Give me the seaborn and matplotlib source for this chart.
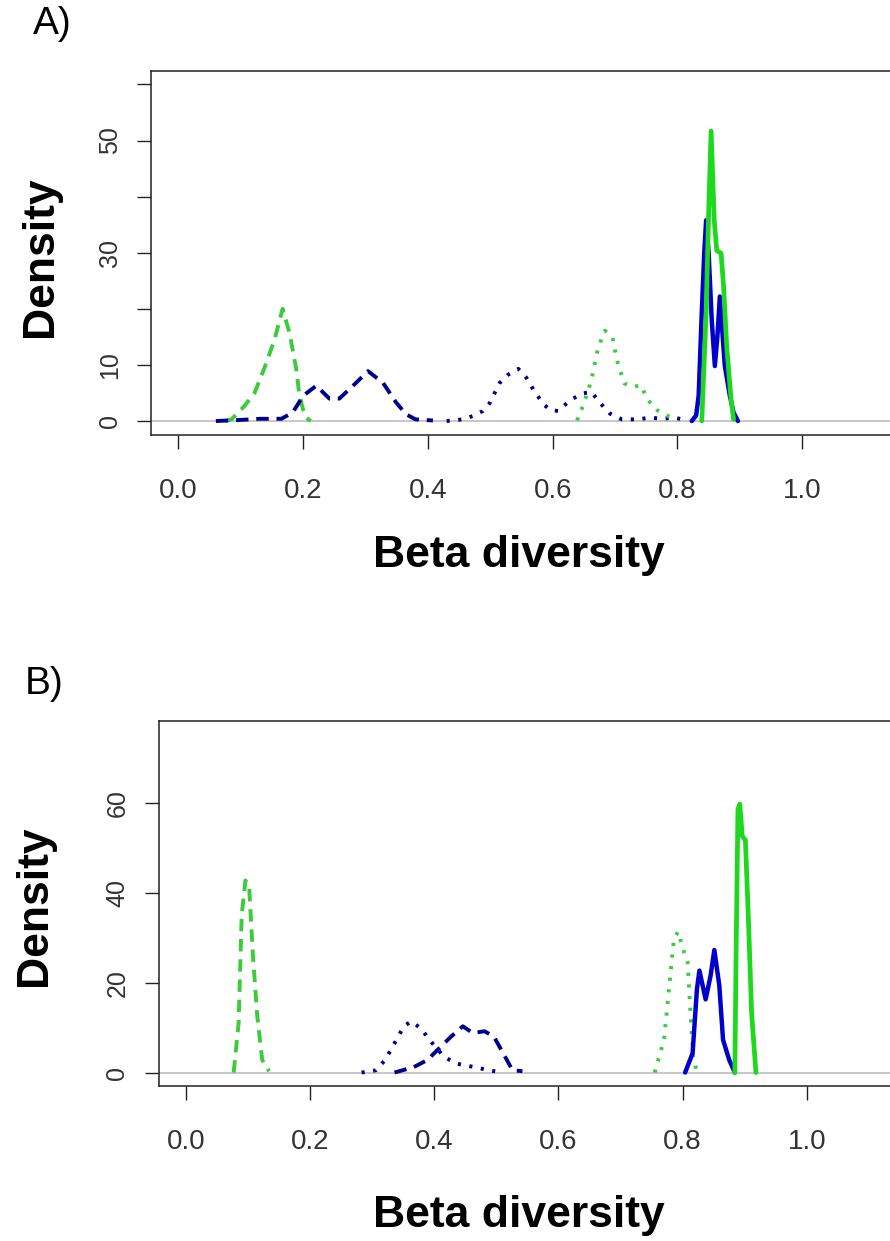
import matplotlib
matplotlib.use("Agg")
import matplotlib.pyplot as plt
from matplotlib import font_manager
import seaborn as sns

# panel A values (beta diversity vs density)
a_green_dash_x = [0.075, 0.085, 0.106, 0.122, 0.138, 0.154, 0.167, 0.178, 0.189, 0.194, 0.200, 0.205, 0.212]
a_green_dash_y = [0.0, 0.3, 2.7, 5.0, 9.5, 14.5, 20.0, 15.7, 9.2, 4.5, 2.0, 0.6, 0.0]
a_navy_dash_x = [0.060, 0.100, 0.130, 0.165, 0.183, 0.200, 0.221, 0.242, 0.258, 0.280, 0.304, 0.328, 0.349, 0.365, 0.380, 0.408]
a_navy_dash_y = [0.0, 0.2, 0.4, 0.4, 1.5, 4.5, 6.3, 4.0, 4.0, 6.3, 8.9, 6.8, 3.3, 1.2, 0.3, 0.1]
a_navy_dot_x = [0.430, 0.456, 0.472, 0.488, 0.499, 0.515, 0.529, 0.545, 0.558, 0.569, 0.585, 0.597, 0.609,
                0.628, 0.647, 0.662, 0.677, 0.692, 0.711, 0.735, 0.757, 0.775, 0.795, 0.817]
a_navy_dot_y = [0.0, 0.3, 0.9, 1.8, 3.2, 6.8, 8.3, 9.3, 7.7, 5.6, 3.0, 1.9, 1.8,
                3.7, 4.9, 5.2, 3.1, 1.3, 0.3, 0.3, 0.6, 0.4, 0.6, 0.1]
a_green_dot_x = [0.639, 0.650, 0.662, 0.673, 0.684, 0.696, 0.703, 0.715, 0.730, 0.741, 0.753, 0.768, 0.783, 0.798]
a_green_dot_y = [0.1, 3.1, 7.3, 13.2, 16.1, 14.9, 10.8, 6.7, 6.1, 6.4, 3.7, 1.9, 1.0, 0.1]
a_blue_x = [0.823, 0.830, 0.834, 0.839, 0.843, 0.846, 0.850, 0.855, 0.860, 0.864, 0.868, 0.872, 0.876, 0.884, 0.890, 0.897]
a_blue_y = [0.0, 1.0, 4.5, 19.3, 30.0, 35.8, 30.0, 18.0, 9.8, 15.0, 22.2, 16.0, 9.8, 4.5, 1.5, 0.0]
a_green_x = [0.839, 0.846, 0.850, 0.854, 0.859, 0.863, 0.870, 0.874, 0.879, 0.886, 0.890]
a_green_y = [0.0, 19.3, 36.9, 51.7, 35.8, 30.4, 29.9, 24.0, 13.3, 3.9, 0.3]

# panel B values
b_green_dash_x = [0.077, 0.085, 0.090, 0.096, 0.102, 0.108, 0.115, 0.123, 0.134]
b_green_dash_y = [0.0, 11.0, 35.2, 42.8, 41.3, 26.2, 12.6, 2.8, 0.3]
b_navy_dot_x = [0.283, 0.306, 0.321, 0.336, 0.351, 0.363, 0.378, 0.397, 0.416, 0.435, 0.465, 0.488, 0.510]
b_navy_dot_y = [0.0, 0.5, 2.8, 6.5, 10.3, 11.4, 9.9, 6.5, 3.5, 2.0, 1.2, 0.5, 0.0]
b_navy_dash_x = [0.336, 0.367, 0.389, 0.405, 0.427, 0.446, 0.462, 0.481, 0.496, 0.511, 0.526, 0.542]
b_navy_dash_y = [0.0, 1.2, 2.8, 5.0, 8.0, 10.3, 8.8, 9.2, 8.0, 4.3, 0.5, 0.3]
b_green_dot_x = [0.755, 0.770, 0.779, 0.786, 0.793, 0.800, 0.808, 0.812, 0.817, 0.823]
b_green_dot_y = [0.0, 7.3, 20.1, 29.9, 31.4, 27.7, 24.6, 14.8, 3.5, 0.0]
b_blue_x = [0.804, 0.816, 0.823, 0.827, 0.837, 0.845, 0.851, 0.859, 0.865, 0.875, 0.884]
b_blue_y = [0.0, 4.3, 18.6, 22.7, 16.3, 21.6, 27.3, 19.4, 7.3, 2.8, 0.0]
b_green_x = [0.884, 0.886, 0.889, 0.892, 0.896, 0.901, 0.906, 0.911, 0.918]
b_green_y = [0.0, 26.2, 58.6, 59.8, 52.6, 51.8, 33.7, 13.3, 0.0]

x_ticks = [0.0, 0.2, 0.4, 0.6, 0.8, 1.0]
x_ticklabels = ["0.0", "0.2", "0.4", "0.6", "0.8", "1.0"]
a_yticks = [0, 10, 20, 30, 40, 50, 60]
a_yticklabels = ["0", "10", "", "30", "", "50", ""]
b_yticks = [0, 20, 40, 60]
b_yticklabels = ["0", "20", "40", "60"]

NAVY = "#00008B"
BLUE = "#0000CD"
GREEN = "#1ED81E"
LGREEN = "#3CCB3C"
DASH = (0, (3.2, 2.0))
DOT = (0, (0.8, 2.2))

sns.set_theme(style="white")
plt.rcParams["font.family"] = ["Liberation Sans", "DejaVu Sans"]

# narrow face for the tick numbers if it is there
names = {f.name for f in font_manager.fontManager.ttflist}
if "Liberation Sans Narrow" in names:
    tick_family, xt_size, yt_size = "Liberation Sans Narrow", 22, 18
else:
    tick_family, xt_size, yt_size = "Liberation Sans", 20, 18

W, H = 890, 1241
fig = plt.figure(figsize=(W / 100, H / 100), dpi=100)


def panel(pos, curves, ylim, yticks, yticklabels):
    ax = fig.add_axes(pos)
    ax.axhline(0, color="#BDBDBD", lw=1.2, zorder=1)
    for x, y, col, ls, lw in curves:
        sns.lineplot(x=x, y=y, ax=ax, color=col, linestyle=ls, lw=lw,
                     sort=False, estimator=None, zorder=3)
    ax.set_xlim(-0.044, 1.144)
    ax.set_ylim(*ylim)
    ax.set_xticks(x_ticks)
    ax.set_xticklabels(x_ticklabels, family=tick_family, fontsize=xt_size)
    ax.set_yticks(yticks)
    ax.set_yticklabels(yticklabels, family=tick_family, fontsize=yt_size,
                       rotation=90, va="center")
    ax.set_xlabel("")
    ax.set_ylabel("")
    for s in ax.spines.values():
        s.set_color("#222222")
        s.set_linewidth(1.1)
    ax.tick_params(axis="both", direction="out", length=10, width=1.0,
                   color="#222222", labelcolor="#333333",
                   bottom=True, left=True)
    ax.tick_params(axis="x", pad=21)
    ax.tick_params(axis="y", pad=11)
    return ax


panel([151 / W, 1 - 434.5 / H, (892 - 151) / W, (434.5 - 71) / H],
      [(a_green_dash_x, a_green_dash_y, LGREEN, DASH, 2.8),
       (a_navy_dash_x, a_navy_dash_y, NAVY, DASH, 2.8),
       (a_navy_dot_x, a_navy_dot_y, NAVY, DOT, 2.8),
       (a_green_dot_x, a_green_dot_y, LGREEN, DOT, 2.8),
       (a_blue_x, a_blue_y, BLUE, "-", 3.2),
       (a_green_x, a_green_y, GREEN, "-", 3.4)],
      (-2.4, 62.4), a_yticks, a_yticklabels)

panel([158.5 / W, 1 - 1086 / H, (896.3 - 158.5) / W, (1086 - 721) / H],
      [(b_green_dash_x, b_green_dash_y, LGREEN, DASH, 2.8),
       (b_navy_dot_x, b_navy_dot_y, NAVY, DOT, 2.8),
       (b_navy_dash_x, b_navy_dash_y, NAVY, DASH, 2.8),
       (b_green_dot_x, b_green_dot_y, LGREEN, DOT, 2.8),
       (b_blue_x, b_blue_y, BLUE, "-", 3.2),
       (b_green_x, b_green_y, GREEN, "-", 3.4)],
      (-3.0, 78.3), b_yticks, b_yticklabels)


def ftext(x, y, s, **kw):
    fig.text(x / W, 1 - y / H, s, **kw)


ftext(33, 24, "A)", fontsize=28, ha="left", va="center", color="black")
ftext(25, 684, "B)", fontsize=28, ha="left", va="center", color="black")
ftext(40, 257, "Density", fontsize=32, fontweight="bold", rotation=90, ha="center", va="center", color="black")
ftext(35, 906, "Density", fontsize=32, fontweight="bold", rotation=90, ha="center", va="center", color="black")
ftext(519, 555, "Beta diversity", fontsize=32, fontweight="bold", ha="center", va="center", color="black")
ftext(519, 1215, "Beta diversity", fontsize=32, fontweight="bold", ha="center", va="center", color="black")

fig.savefig("out.png", dpi=100, facecolor="white")
